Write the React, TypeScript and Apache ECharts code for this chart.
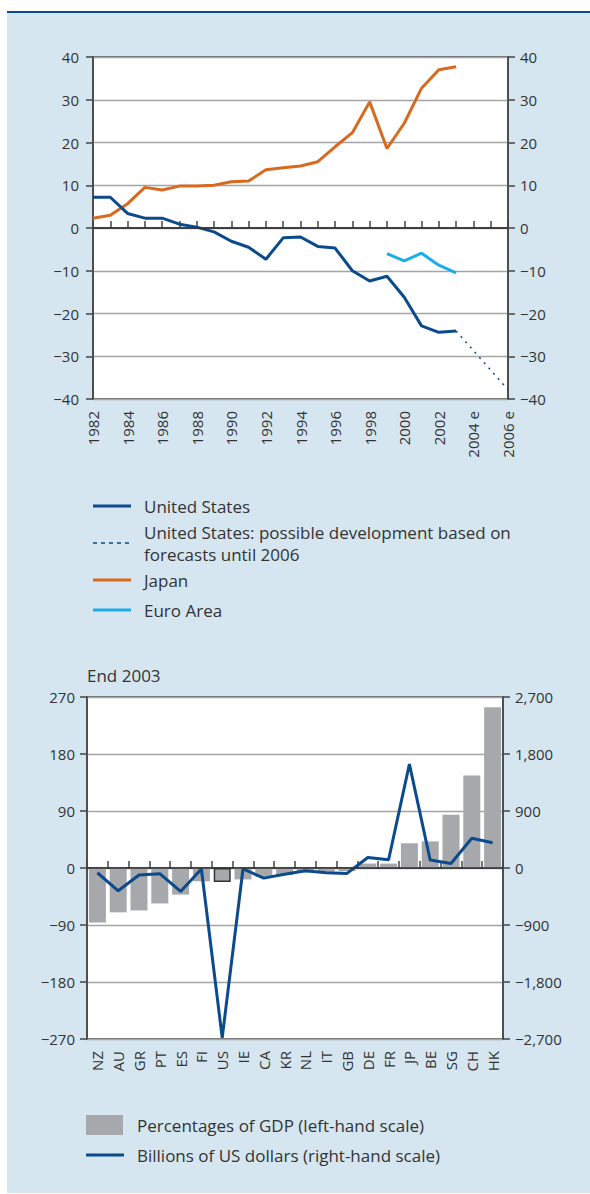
import React, { useEffect, useRef } from "react";
import * as echarts from "echarts";

const years = ["1982","1983","1984","1985","1986","1987","1988","1989","1990","1991","1992","1993","1994","1995","1996","1997","1998","1999","2000","2001","2002","2003","2004 e","2005 e","2006 e"];
const usBalance = [7.2, 7.2, 3.4, 2.3, 2.3, 0.9, 0.2, -0.9, -3.1, -4.5, -7.3, -2.3, -2.1, -4.3, -4.7, -10.0, -12.4, -11.3, -16.2, -22.9, -24.4, -24.1, null, null, null];
const usForecast = [null, null, null, null, null, null, null, null, null, null, null, null, null, null, null, null, null, null, null, null, null, -24.1, null, null, -37.8];
const japanBalance = [2.3, 3.0, 5.7, 9.5, 8.9, 9.8, 9.8, 10.0, 10.8, 11.0, 13.6, 14.1, 14.5, 15.5, 19.0, 22.3, 29.5, 18.6, 24.5, 32.7, 37.0, 37.7, null, null, null];
const euroBalance = [null, null, null, null, null, null, null, null, null, null, null, null, null, null, null, null, null, -6.0, -7.7, -5.9, -8.7, -10.5, null, null, null];

const countries = ["NZ","AU","GR","PT","ES","FI","US","IE","CA","KR","NL","IT","GB","DE","FR","JP","BE","SG","CH","HK"];
const gdpPercent = [-86, -70, -67, -56, -42, -21, -22, -18, -14, -11, -7, -6, -5, 7, 7, 39, 42, 84, 146, 254];
const usdBillions = [-75, -360, -110, -90, -370, -15, -2680, -15, -160, -100, -45, -75, -85, 165, 130, 1640, 125, 70, 470, 400];

const DARK_BLUE = "#0b4a8c";
const ORANGE = "#d9691e";
const LIGHT_BLUE = "#1badea";
const BAR_GRAY = "#a6a8ab";
const AXIS = "#444";
const GRID_LINE = "#a4a4a4";
const TEXT = "#333";
const FONT = "Open Sans";
const AXIS_FONT = 15;
const LEGEND_FONT = 17;

const fmt = (v: number) => (v < 0 ? "\u2212" : "") + Math.abs(v).toLocaleString("en-US");

export default function App() {
  const ref = useRef<HTMLDivElement>(null);
  useEffect(() => {
    if (!ref.current) return;
    const chart = echarts.init(ref.current, null, { renderer: "svg" });
    const axisLine = { show: true, lineStyle: { color: AXIS, width: 1.5 } };
    const yTick = { show: true, inside: false, length: 7, lineStyle: { color: AXIS, width: 1.5 } };
    const xTick = { show: true, inside: true, length: 7, interval: 0, lineStyle: { color: AXIS, width: 1.5 } };
    const label = { fontSize: AXIS_FONT, color: TEXT, fontFamily: FONT, formatter: fmt };
    const zeroLine = {
      silent: true,
      symbol: "none",
      label: { show: false },
      lineStyle: { color: "#333", width: 1.5, type: "solid" },
      data: [{ yAxis: 0 }],
    };
    const legendText = (x: number, y: number, text: string) => ({
      type: "text",
      x,
      y,
      style: { text, fill: TEXT, font: `${LEGEND_FONT}px "${FONT}"`, lineHeight: 22, verticalAlign: "middle", align: "left" },
    });
    const legendLine = (y: number, color: string, dash?: number[]) => ({
      type: "line",
      shape: { x1: 93, y1: y, x2: 131, y2: y },
      style: { stroke: color, lineWidth: dash ? 1.5 : 3, lineDash: dash },
    });
    chart.setOption({
      animation: false,
      textStyle: { fontFamily: FONT, color: TEXT },
      grid: [
        { left: 93, top: 57, width: 415, height: 342, show: true, backgroundColor: "#fff", borderColor: AXIS, borderWidth: 1.5 },
        { left: 87, top: 697, width: 416, height: 342, show: true, backgroundColor: "#fff", borderColor: AXIS, borderWidth: 1.5 },
      ],
      xAxis: [
        {
          type: "category", gridIndex: 0, data: years, boundaryGap: false,
          axisLine, axisTick: xTick,
          axisLabel: { interval: 1, rotate: 90, fontSize: AXIS_FONT, color: TEXT, margin: 12 },
        },
        {
          type: "category", gridIndex: 1, data: countries, boundaryGap: true,
          axisLine, axisTick: xTick,
          axisLabel: { interval: 0, rotate: 90, fontSize: AXIS_FONT, color: TEXT, margin: 12 },
        },
      ],
      yAxis: [
        { type: "value", gridIndex: 0, position: "left", min: -40, max: 40, interval: 10, axisLine, axisTick: yTick, axisLabel: { ...label, margin: 14 }, splitLine: { show: true, lineStyle: { color: GRID_LINE, width: 1.3 } } },
        { type: "value", gridIndex: 0, position: "right", min: -40, max: 40, interval: 10, axisLine, axisTick: yTick, axisLabel: { ...label, margin: 12 }, splitLine: { show: false } },
        { type: "value", gridIndex: 1, position: "left", min: -270, max: 270, interval: 90, axisLine, axisTick: yTick, axisLabel: { ...label, margin: 12 }, splitLine: { show: true, lineStyle: { color: GRID_LINE, width: 1.3 } } },
        { type: "value", gridIndex: 1, position: "right", min: -2700, max: 2700, interval: 900, axisLine, axisTick: yTick, axisLabel: { ...label, margin: 12 }, splitLine: { show: false } },
      ],
      series: [
        { name: "Japan", type: "line", xAxisIndex: 0, yAxisIndex: 0, data: japanBalance, showSymbol: false, lineStyle: { color: ORANGE, width: 3 }, itemStyle: { color: ORANGE }, markLine: zeroLine, z: 3 },
        { name: "United States", type: "line", xAxisIndex: 0, yAxisIndex: 0, data: usBalance, showSymbol: false, lineStyle: { color: DARK_BLUE, width: 3 }, itemStyle: { color: DARK_BLUE }, z: 4 },
        { name: "United States forecast", type: "line", xAxisIndex: 0, yAxisIndex: 0, data: usForecast, connectNulls: true, showSymbol: false, lineStyle: { color: DARK_BLUE, width: 1.5, type: [2, 5] }, itemStyle: { color: DARK_BLUE }, z: 4 },
        { name: "Euro Area", type: "line", xAxisIndex: 0, yAxisIndex: 0, data: euroBalance, showSymbol: false, lineStyle: { color: LIGHT_BLUE, width: 3 }, itemStyle: { color: LIGHT_BLUE }, z: 4 },
        {
          name: "Percentages of GDP", type: "bar", xAxisIndex: 1, yAxisIndex: 2, barWidth: 17,
          data: gdpPercent.map((v, i) => countries[i] === "US"
            ? { value: v, itemStyle: { color: BAR_GRAY, borderColor: "#333", borderWidth: 1.5 } }
            : v),
          itemStyle: { color: BAR_GRAY },
          markLine: zeroLine,
        },
        { name: "Billions of US dollars", type: "line", xAxisIndex: 1, yAxisIndex: 3, data: usdBillions, showSymbol: false, lineStyle: { color: DARK_BLUE, width: 3 }, itemStyle: { color: DARK_BLUE }, z: 4 },
      ],
      graphic: [
        legendLine(506, DARK_BLUE),
        legendText(144, 506, "United States"),
        legendLine(543, DARK_BLUE, [4, 4]),
        legendText(144, 543, "United States: possible development based on\nforecasts until 2006"),
        legendLine(580, ORANGE),
        legendText(144, 580, "Japan"),
        legendLine(610, LIGHT_BLUE),
        legendText(144, 610, "Euro Area"),
        legendText(87, 675, "End 2003"),
        { type: "rect", shape: { x: 86, y: 1115, width: 37, height: 20 }, style: { fill: BAR_GRAY } },
        legendText(137, 1125, "Percentages of GDP (left-hand scale)"),
        { type: "line", shape: { x1: 86, y1: 1155, x2: 124, y2: 1155 }, style: { stroke: DARK_BLUE, lineWidth: 3 } },
        legendText(137, 1155, "Billions of US dollars (right-hand scale)"),
      ],
    });
    return () => chart.dispose();
  }, []);
  return (
    <div style={{ position: "absolute", left: 0, top: 0, width: 590, height: 1194, background: "#fff" }}>
      <div style={{ position: "absolute", left: 7, top: 11, width: 583, height: 1180, background: "#d5e6f0", borderTop: `2px solid ${DARK_BLUE}` }} />
      <div ref={ref} style={{ position: "absolute", left: 0, top: 0, width: 590, height: 1194 }} />
    </div>
  );
}
